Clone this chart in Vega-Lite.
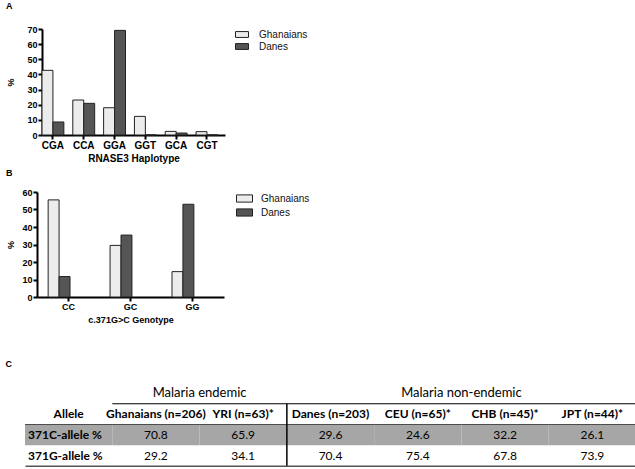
{
  "$schema": "https://vega.github.io/schema/vega-lite/v6.json",
  "padding": {"left": 5, "top": 2, "right": 0, "bottom": 0},
  "config": {
    "view": {"stroke": null},
    "font": "Liberation Sans",
    "axis": {"grid": false, "domainColor": "#000", "domainWidth": 2, "tickColor": "#000", "tickWidth": 2, "tickSize": 4, "labelColor": "#000", "labelFontWeight": "bold", "titleFontWeight": "bold", "titleColor": "#000", "labelFont": "Liberation Sans", "titleFont": "Liberation Sans"},
    "legend": {"title": null, "orient": "right", "padding": 0, "labelFont": "Liberation Sans", "labelFontSize": 10, "labelColor": "#111", "symbolStrokeColor": "#222", "symbolStrokeWidth": 1, "symbolOpacity": 1, "symbolType": "M-1,-0.45H1V0.45H-1Z", "rowPadding": 1},
    "title": {"font": "Liberation Sans", "fontSize": 9, "fontWeight": "bold", "color": "#000", "anchor": "start", "frame": "bounds"}
  },
  "datasets": {
    "hap": [
      {"hap": "CGA", "group": "Ghanaians", "pct": 42.7},
      {"hap": "CGA", "group": "Danes", "pct": 8.6},
      {"hap": "CCA", "group": "Ghanaians", "pct": 23.1},
      {"hap": "CCA", "group": "Danes", "pct": 20.9},
      {"hap": "GGA", "group": "Ghanaians", "pct": 18.0},
      {"hap": "GGA", "group": "Danes", "pct": 69.1},
      {"hap": "GGT", "group": "Ghanaians", "pct": 12.3},
      {"hap": "GGT", "group": "Danes", "pct": 0},
      {"hap": "GCA", "group": "Ghanaians", "pct": 2.4},
      {"hap": "GCA", "group": "Danes", "pct": 1.3},
      {"hap": "CGT", "group": "Ghanaians", "pct": 2.2},
      {"hap": "CGT", "group": "Danes", "pct": 0}
    ],
    "geno": [
      {"geno": "CC", "group": "Ghanaians", "pct": 55.5},
      {"geno": "CC", "group": "Danes", "pct": 11.7},
      {"geno": "GC", "group": "Ghanaians", "pct": 29.5},
      {"geno": "GC", "group": "Danes", "pct": 35.4},
      {"geno": "GG", "group": "Ghanaians", "pct": 14.5},
      {"geno": "GG", "group": "Danes", "pct": 53.0}
    ],
    "tblGroup": [
      {"col": "YRI (n=63)*", "row": "group", "text": "Malaria endemic"},
      {"col": "CHB (n=45)*", "row": "group", "text": "Malaria non-endemic"}
    ],
    "tblHead": [
      {"col": "Allele", "row": "header", "text": "Allele"},
      {"col": "Ghanaians (n=206)", "row": "header", "text": "Ghanaians (n=206)"},
      {"col": "YRI (n=63)*", "row": "header", "text": "YRI (n=63)*"},
      {"col": "Danes (n=203)", "row": "header", "text": "Danes (n=203)"},
      {"col": "CEU (n=65)*", "row": "header", "text": "CEU (n=65)*"},
      {"col": "CHB (n=45)*", "row": "header", "text": "CHB (n=45)*"},
      {"col": "JPT (n=44)*", "row": "header", "text": "JPT (n=44)*"}
    ],
    "tblLabel": [
      {"col": "Allele", "row": "371C-allele %", "text": "371C-allele %"},
      {"col": "Allele", "row": "371G-allele %", "text": "371G-allele %"}
    ],
    "tblVal": [
      {"col": "Ghanaians (n=206)", "row": "371C-allele %", "value": "70.8"},
      {"col": "YRI (n=63)*", "row": "371C-allele %", "value": "65.9"},
      {"col": "Danes (n=203)", "row": "371C-allele %", "value": "29.6"},
      {"col": "CEU (n=65)*", "row": "371C-allele %", "value": "24.6"},
      {"col": "CHB (n=45)*", "row": "371C-allele %", "value": "32.2"},
      {"col": "JPT (n=44)*", "row": "371C-allele %", "value": "26.1"},
      {"col": "Ghanaians (n=206)", "row": "371G-allele %", "value": "29.2"},
      {"col": "YRI (n=63)*", "row": "371G-allele %", "value": "34.1"},
      {"col": "Danes (n=203)", "row": "371G-allele %", "value": "70.4"},
      {"col": "CEU (n=65)*", "row": "371G-allele %", "value": "75.4"},
      {"col": "CHB (n=45)*", "row": "371G-allele %", "value": "67.8"},
      {"col": "JPT (n=44)*", "row": "371G-allele %", "value": "73.9"}
    ],
    "grayCells": [
      {"row": "371C-allele %", "col": "Allele"},
      {"row": "371C-allele %", "col": "Ghanaians (n=206)"},
      {"row": "371C-allele %", "col": "YRI (n=63)*"},
      {"row": "371C-allele %", "col": "Danes (n=203)"},
      {"row": "371C-allele %", "col": "CEU (n=65)*"},
      {"row": "371C-allele %", "col": "CHB (n=45)*"},
      {"row": "371C-allele %", "col": "JPT (n=44)*"}
    ],
    "hLines": [
      {"row": "header", "col": "Ghanaians (n=206)", "col2": "JPT (n=44)*", "kind": "group"},
      {"row": "371C-allele %", "col": "Allele", "col2": "JPT (n=44)*", "kind": "header"}
    ],
    "vLine": [{"col": "Danes (n=203)", "row": "header", "row2": "371G-allele %"}]
  },
  "spacing": 36,
  "resolve": {"scale": {"color": "independent"}, "legend": {"color": "independent"}},
  "vconcat": [
    {
      "spacing": 6,
      "resolve": {"scale": {"color": "independent"}, "legend": {"color": "independent"}},
      "vconcat": [
        {
          "title": {"text": "A", "offset": 14},
          "width": 183,
          "height": 106,
          "data": {"name": "hap"},
          "mark": {"type": "bar", "stroke": "#222", "strokeWidth": 1},
          "encoding": {
            "x": {"field": "hap", "type": "nominal", "sort": ["CGA", "CCA", "GGA", "GGT", "GCA", "CGT"],
                  "scale": {"paddingInner": 0.29, "paddingOuter": 0.115, "align": 0},
                  "axis": {"title": "RNASE3 Haplotype", "labelAngle": 0, "labelFontSize": 10, "titleFontSize": 10, "labelPadding": 1, "titlePadding": 3}},
            "xOffset": {"field": "group", "type": "nominal", "scale": {"domain": ["Ghanaians", "Danes"]}},
            "y": {"field": "pct", "type": "quantitative", "scale": {"domain": [0, 70]},
                  "axis": {"title": "%", "values": [0, 10, 20, 30, 40, 50, 60, 70], "labelFontSize": 9, "titleFontSize": 9, "labelPadding": 1, "minExtent": 21, "maxExtent": 21, "titlePadding": 6}},
            "color": {"field": "group", "type": "nominal", "scale": {"domain": ["Ghanaians", "Danes"], "range": ["#ececec", "#555555"]},
                      "legend": {"offset": 10, "symbolSize": 169, "clipHeight": 11, "labelOffset": 10}}
          }
        },
        {
          "title": {"text": "B", "offset": 10},
          "width": 182,
          "height": 105,
          "data": {"name": "geno"},
          "mark": {"type": "bar", "stroke": "#222", "strokeWidth": 1},
          "encoding": {
            "x": {"field": "geno", "type": "nominal", "sort": ["CC", "GC", "GG"],
                  "scale": {"paddingInner": 0.34, "paddingOuter": 0.18, "range": [-5, 182]},
                  "axis": {"title": "c.371G>C Genotype", "labelAngle": 0, "labelFontSize": 9, "titleFontSize": 9, "labelPadding": 1, "titlePadding": 4}},
            "xOffset": {"field": "group", "type": "nominal", "scale": {"domain": ["Ghanaians", "Danes"]}},
            "y": {"field": "pct", "type": "quantitative", "scale": {"domain": [0, 60]},
                  "axis": {"title": "%", "offset": 5, "values": [0, 10, 20, 30, 40, 50, 60], "labelFontSize": 9, "titleFontSize": 9, "labelPadding": 1, "minExtent": 16, "maxExtent": 16, "titlePadding": 6}},
            "color": {"field": "group", "type": "nominal", "scale": {"domain": ["Ghanaians", "Danes"], "range": ["#ececec", "#555555"]},
                      "legend": {"offset": 12, "symbolSize": 256, "clipHeight": 13, "labelOffset": 8}}
          }
        }
      ]
    },
    {
      "title": {"text": "C", "offset": 14, "dx": -19},
      "width": 594,
      "height": 83,
      "layer": [
        {
          "data": {"name": "grayCells"},
          "mark": {"type": "rect", "fill": "#a6a6a6"},
          "encoding": {
            "x": {"field": "col", "type": "nominal",
                  "scale": {"type": "band", "domain": ["Allele", "Ghanaians (n=206)", "YRI (n=63)*", "Danes (n=203)", "CEU (n=65)*", "CHB (n=45)*", "JPT (n=44)*"], "paddingInner": 0, "paddingOuter": 0, "range": [-17, 594]},
                  "axis": {"title": null, "labels": false, "ticks": false, "domain": true, "domainWidth": 2, "domainColor": "#555"}},
            "y": {"field": "row", "type": "nominal",
                  "scale": {"type": "band", "domain": ["group", "header", "371C-allele %", "371G-allele %"], "paddingInner": 0, "paddingOuter": 0},
                  "axis": null}
          }
        },
        {
          "data": {"name": "hLines"},
          "mark": {"type": "rule", "strokeWidth": 1},
          "encoding": {
            "x": {"field": "col", "type": "nominal", "bandPosition": 0,
                  "scale": {"type": "band", "domain": ["Allele", "Ghanaians (n=206)", "YRI (n=63)*", "Danes (n=203)", "CEU (n=65)*", "CHB (n=45)*", "JPT (n=44)*"], "paddingInner": 0, "paddingOuter": 0, "range": [-17, 594]},
                  "axis": {"title": null, "labels": false, "ticks": false, "domain": true, "domainWidth": 2, "domainColor": "#555"}},
            "x2": {"field": "col2", "bandPosition": 1},
            "y": {"field": "row", "type": "nominal", "bandPosition": 0,
                  "scale": {"type": "band", "domain": ["group", "header", "371C-allele %", "371G-allele %"], "paddingInner": 0, "paddingOuter": 0},
                  "axis": null},
            "color": {"field": "kind", "type": "nominal", "scale": {"domain": ["group", "header"], "range": ["#000000", "#4d4d4d"]}, "legend": null}
          }
        },
        {
          "data": {"name": "vLine"},
          "mark": {"type": "rule", "color": "#000", "strokeWidth": 1.5},
          "encoding": {
            "x": {"field": "col", "type": "nominal", "bandPosition": 0,
                  "scale": {"type": "band", "domain": ["Allele", "Ghanaians (n=206)", "YRI (n=63)*", "Danes (n=203)", "CEU (n=65)*", "CHB (n=45)*", "JPT (n=44)*"], "paddingInner": 0, "paddingOuter": 0, "range": [-17, 594]},
                  "axis": {"title": null, "labels": false, "ticks": false, "domain": true, "domainWidth": 2, "domainColor": "#555"}},
            "y": {"field": "row", "type": "nominal", "bandPosition": 0,
                  "scale": {"type": "band", "domain": ["group", "header", "371C-allele %", "371G-allele %"], "paddingInner": 0, "paddingOuter": 0},
                  "axis": null},
            "y2": {"field": "row2", "bandPosition": 1}
          }
        },
        {
          "data": {"name": "tblGroup"},
          "mark": {"type": "text", "font": "Lato", "fontSize": 13, "color": "#000", "align": "center", "baseline": "middle"},
          "encoding": {
            "x": {"field": "col", "type": "nominal", "bandPosition": 0,
                  "scale": {"type": "band", "domain": ["Allele", "Ghanaians (n=206)", "YRI (n=63)*", "Danes (n=203)", "CEU (n=65)*", "CHB (n=45)*", "JPT (n=44)*"], "paddingInner": 0, "paddingOuter": 0, "range": [-17, 594]},
                  "axis": {"title": null, "labels": false, "ticks": false, "domain": true, "domainWidth": 2, "domainColor": "#555"}},
            "y": {"field": "row", "type": "nominal",
                  "scale": {"type": "band", "domain": ["group", "header", "371C-allele %", "371G-allele %"], "paddingInner": 0, "paddingOuter": 0},
                  "axis": null},
            "text": {"field": "text"}
          }
        },
        {
          "data": {"name": "tblHead"},
          "mark": {"type": "text", "font": "Lato", "fontSize": 12, "fontWeight": "bold", "color": "#000", "align": "center", "baseline": "middle"},
          "encoding": {
            "x": {"field": "col", "type": "nominal",
                  "scale": {"type": "band", "domain": ["Allele", "Ghanaians (n=206)", "YRI (n=63)*", "Danes (n=203)", "CEU (n=65)*", "CHB (n=45)*", "JPT (n=44)*"], "paddingInner": 0, "paddingOuter": 0, "range": [-17, 594]},
                  "axis": {"title": null, "labels": false, "ticks": false, "domain": true, "domainWidth": 2, "domainColor": "#555"}},
            "y": {"field": "row", "type": "nominal",
                  "scale": {"type": "band", "domain": ["group", "header", "371C-allele %", "371G-allele %"], "paddingInner": 0, "paddingOuter": 0},
                  "axis": null},
            "text": {"field": "text"}
          }
        },
        {
          "data": {"name": "tblLabel"},
          "mark": {"type": "text", "font": "Lato", "fontSize": 12, "fontWeight": "bold", "color": "#000", "align": "left", "baseline": "middle", "dx": 3},
          "encoding": {
            "x": {"field": "col", "type": "nominal", "bandPosition": 0,
                  "scale": {"type": "band", "domain": ["Allele", "Ghanaians (n=206)", "YRI (n=63)*", "Danes (n=203)", "CEU (n=65)*", "CHB (n=45)*", "JPT (n=44)*"], "paddingInner": 0, "paddingOuter": 0, "range": [-17, 594]},
                  "axis": {"title": null, "labels": false, "ticks": false, "domain": true, "domainWidth": 2, "domainColor": "#555"}},
            "y": {"field": "row", "type": "nominal",
                  "scale": {"type": "band", "domain": ["group", "header", "371C-allele %", "371G-allele %"], "paddingInner": 0, "paddingOuter": 0},
                  "axis": null},
            "text": {"field": "text"}
          }
        },
        {
          "data": {"name": "tblVal"},
          "mark": {"type": "text", "font": "Lato", "fontSize": 12, "color": "#000", "align": "center", "baseline": "middle"},
          "encoding": {
            "x": {"field": "col", "type": "nominal",
                  "scale": {"type": "band", "domain": ["Allele", "Ghanaians (n=206)", "YRI (n=63)*", "Danes (n=203)", "CEU (n=65)*", "CHB (n=45)*", "JPT (n=44)*"], "paddingInner": 0, "paddingOuter": 0, "range": [-17, 594]},
                  "axis": {"title": null, "labels": false, "ticks": false, "domain": true, "domainWidth": 2, "domainColor": "#555"}},
            "y": {"field": "row", "type": "nominal",
                  "scale": {"type": "band", "domain": ["group", "header", "371C-allele %", "371G-allele %"], "paddingInner": 0, "paddingOuter": 0},
                  "axis": null},
            "text": {"field": "value"}
          }
        }
      ]
    }
  ]
}
